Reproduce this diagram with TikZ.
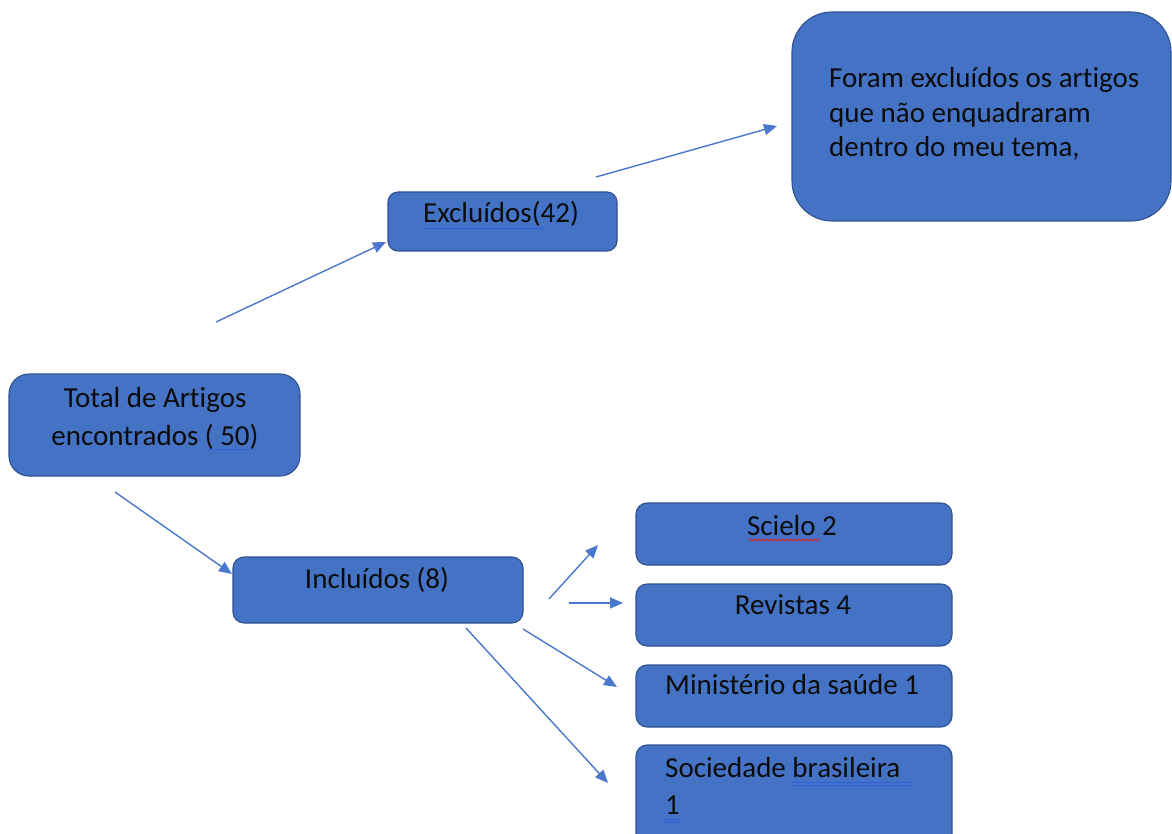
\documentclass[tikz,border=0pt]{standalone}
\usepackage{fontspec}
\setmainfont[RawFeature={-liga;-clig;-dlig;-calt}]{Carlito}
\usetikzlibrary{arrows.meta,decorations.pathmorphing}
\definecolor{boxfill}{HTML}{4472C4}
\definecolor{boxline}{HTML}{2F528F}
\definecolor{arrowc}{HTML}{4A78CC}
\definecolor{ulblue}{HTML}{2F5FE0}
\definecolor{ulred}{HTML}{E02020}
\definecolor{txtc}{HTML}{0C0C0C}
\tikzset{
  box/.style={draw=boxline, fill=boxfill, line width=1.1pt, inner sep=0pt},
  txt/.style={text=txtc, font=\fontsize{29}{38}\selectfont, inner sep=0pt},
  conn/.style={draw=arrowc, line width=1.4pt, -{Triangle[length=13pt,width=11pt]}},
  ulb/.style={draw=ulblue, line width=0.9pt},
}
\begin{document}
\begin{tikzpicture}[x=1pt,y=-1pt]
\clip (0,0) rectangle (1172,834);
\fill[white] (0,0) rectangle (1172,834);
% boxes
\node[box, rounded corners=20pt, minimum width=291pt, minimum height=102pt] (total) at (154.5,425) {};
\node[box, rounded corners=10pt, minimum width=229pt, minimum height=59pt] (excl) at (502.5,221.5) {};
\node[box, rounded corners=40pt, minimum width=379pt, minimum height=209pt] (big) at (981.5,116.5) {};
\node[box, rounded corners=11pt, minimum width=290pt, minimum height=66pt] (incl) at (378,590) {};
\node[box, rounded corners=11pt, minimum width=316pt, minimum height=62pt] (sci) at (794,534) {};
\node[box, rounded corners=11pt, minimum width=316pt, minimum height=62pt] (rev) at (794,615) {};
\node[box, rounded corners=11pt, minimum width=316pt, minimum height=62pt] (min) at (794,696) {};
\node[box, rounded corners=11pt, minimum width=316pt, minimum height=124pt] (soc) at (794,807) {};
% texts
\node[txt, anchor=base] (totalA) at (155,407) {Total de Artigos};
\node[txt, anchor=base] (totalB) at (155,445) {encontrados ( 50)};
\node[txt, anchor=base] (exclT) at (501,223) {Excluídos(42)};
\node[txt, anchor=base west] (bigA) at (829,88) {Foram excluídos os artigos};
\node[txt, anchor=base west] (bigB) at (829,123) {que não enquadraram};
\node[txt, anchor=base west] (bigC) at (829,157) {dentro do meu tema,};
\node[txt, anchor=base] (inclT) at (377,588) {Incluídos (8)};
\node[txt, anchor=base] (sciT) at (792,535) {Scielo 2};
\node[txt, anchor=base] (revT) at (793,614) {Revistas 4};
\node[txt, anchor=base west] (minT) at (665,694) {Ministério da saúde 1};
\node[txt, anchor=base west] (socA) at (665,777) {Sociedade brasileira};
\node[txt, anchor=base west] (socB) at (665,814) {1};
% proofing marks
\draw[ulb] (207,449) -- (250,449);
\draw[ulb] (425,228) -- (543,228);
\draw[draw=ulred, line width=0.8pt, decorate, decoration={snake, amplitude=1.2pt, segment length=4pt}] (749,540) -- (820,540);
\draw[ulb] (791,782) -- (913,782);
\draw[ulb] (791,785) -- (913,785);
\draw[ulb] (665,819) -- (679,819);
\draw[ulb] (665,822) -- (679,822);
% connector endpoints
\coordinate (a1s) at (216,322); \coordinate (a1e) at (386,242);
\coordinate (a2s) at (596,177); \coordinate (a2e) at (777,126);
\coordinate (a3s) at (115,492); \coordinate (a3e) at (232,574);
\coordinate (a4s) at (549,599); \coordinate (a4e) at (598,545);
\coordinate (a5s) at (569,603); \coordinate (a5e) at (623,603);
\coordinate (a6s) at (523,629); \coordinate (a6e) at (617,687);
\coordinate (a7s) at (466,628); \coordinate (a7e) at (608,783);
\draw[conn] (a1s) -- (a1e);
\draw[conn] (a2s) -- (a2e);
\draw[conn] (a3s) -- (a3e);
\draw[conn] (a4s) -- (a4e);
\draw[conn] (a5s) -- (a5e);
\draw[conn] (a6s) -- (a6e);
\draw[conn] (a7s) -- (a7e);
\end{tikzpicture}
\end{document}
